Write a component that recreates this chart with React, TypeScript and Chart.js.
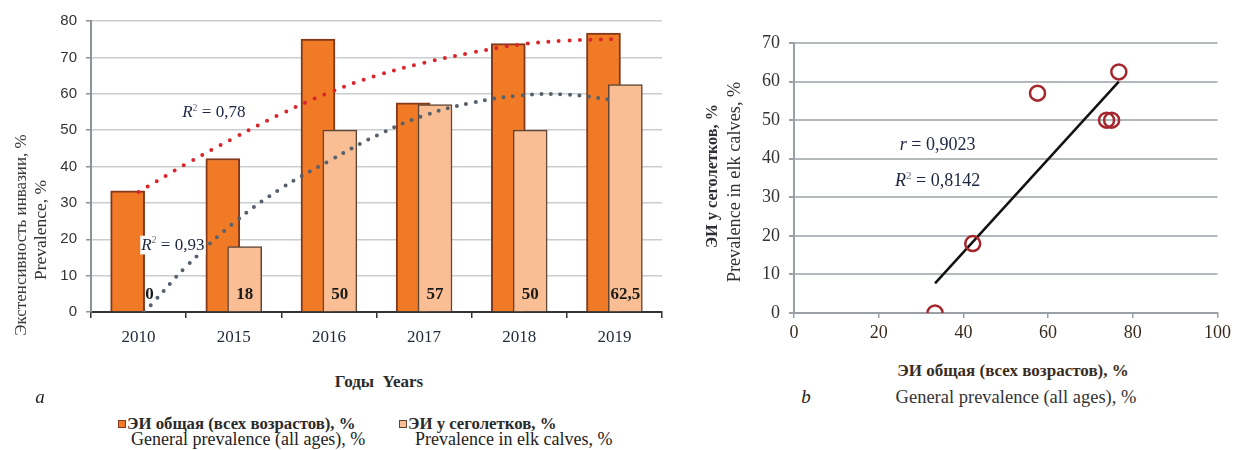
import React, { useEffect, useRef } from 'react';
import { Chart, registerables } from 'chart.js';

Chart.register(...registerables);

// ---- data ----
const categories = ['2010', '2015', '2016', '2017', '2018', '2019'];
const generalPrevalence = [33.3, 42.2, 75, 57.5, 73.8, 76.7];
const calfPrevalence = [0, 18, 50, 57, 50, 62.5];
const calfLabels = ['0', '18', '50', '57', '50', '62,5'];

// dotted polynomial trend lines (x in category-index units)
const generalTrendX = [0, 0.5, 1, 1.5, 2, 2.5, 3, 3.5, 4, 4.5, 5];
const generalTrendY = [33, 40.7, 47.8, 54.5, 60.3, 65, 68.5, 71.3, 73.5, 74.6, 75];
const calfTrendX = [0.06, 0.14, 0.5, 1, 1.5, 2, 2.5, 3, 3.5, 4, 4.5, 5];
const calfTrendY = [0, 2.2, 12.5, 24.5, 34, 41.5, 48.5, 54, 57.5, 59.5, 59.8, 58.2];
const generalR2 = '0,78';
const calfR2 = '0,93';

// scatter regression
const regressionX = [33.3, 76.7];
const regressionY = [7.7, 60];
const corrR = '0,9023';
const corrR2 = '0,8142';

// axes
const leftYMax = 80;
const leftYStep = 10;
const rightXMax = 100;
const rightXStep = 20;
const rightYMax = 70;
const rightYStep = 10;

const SERIF = '"Liberation Serif", "Times New Roman", serif';
const SANS = '"Liberation Sans", Arial, sans-serif';
const NAVY = '#1b2440';

// overlapping pair of bars: each series sits on its own hidden index axis, shifted a little
const BAR_SHIFT = 0.115; // fraction of a category
const BAR_THICKNESS = 34;

function drawItalicLead(
  ctx: CanvasRenderingContext2D,
  cx: number,
  cy: number,
  lead: string,
  sup: string,
  rest: string,
  size: number,
  bg: boolean
) {
  ctx.save();
  ctx.textBaseline = 'middle';
  ctx.textAlign = 'left';
  const fItal = `italic ${size}px ${SERIF}`;
  const fSup = `${Math.round(size * 0.6)}px ${SERIF}`;
  const fNorm = `${size}px ${SERIF}`;
  ctx.font = fItal;
  const w1 = ctx.measureText(lead).width;
  ctx.font = fSup;
  const w2 = sup ? ctx.measureText(sup).width : 0;
  ctx.font = fNorm;
  const w3 = ctx.measureText(rest).width;
  const total = w1 + w2 + w3;
  let x = cx - total / 2;
  if (bg) {
    ctx.fillStyle = '#ffffff';
    ctx.fillRect(x - 1, cy - size * 0.55, total + 2, size * 1.1);
  }
  ctx.fillStyle = NAVY;
  ctx.font = fItal;
  ctx.fillText(lead, x, cy);
  x += w1;
  if (sup) {
    ctx.font = fSup;
    ctx.fillStyle = '#6a7080';
    ctx.fillText(sup, x, cy - size * 0.3);
    ctx.fillStyle = NAVY;
    x += w2;
  }
  ctx.font = fNorm;
  ctx.fillText(rest, x, cy);
  ctx.restore();
}

const leftPlugin = {
  id: 'leftDecor',
  afterDatasetsDraw(chart: any) {
    const ctx = chart.ctx as CanvasRenderingContext2D;
    const y = chart.scales.y;
    const xt = chart.scales.xt;
    const meta = chart.getDatasetMeta(1);
    ctx.save();
    ctx.font = `bold 17px ${SERIF}`;
    ctx.fillStyle = '#1a1a1a';
    ctx.textAlign = 'center';
    ctx.textBaseline = 'middle';
    meta.data.forEach((bar: any, i: number) => {
      ctx.fillText(calfLabels[i], bar.x, y.getPixelForValue(0) - 17);
    });
    ctx.restore();
    drawItalicLead(ctx, xt.getPixelForValue(0.79), y.getPixelForValue(54.7), 'R', '2', ' = ' + generalR2, 17, false);
    drawItalicLead(ctx, xt.getPixelForValue(0.36), y.getPixelForValue(18.4), 'R', '2', ' = ' + calfR2, 17, true);
  },
};

const rightPlugin = {
  id: 'rightDecor',
  afterDatasetsDraw(chart: any) {
    const ctx = chart.ctx as CanvasRenderingContext2D;
    const x = chart.scales.x;
    const y = chart.scales.y;
    drawItalicLead(ctx, x.getPixelForValue(33.9), y.getPixelForValue(43.6), 'r', '', ' = ' + corrR, 18, false);
    drawItalicLead(ctx, x.getPixelForValue(33.9), y.getPixelForValue(34.2), 'R', '2', ' = ' + corrR2, 18, false);
  },
};

const hiddenIndexAxis = (shift: number) => ({
  type: 'linear',
  display: false,
  position: 'bottom',
  offset: false,
  grid: { offset: false },
  min: -0.5 - shift,
  max: categories.length - 0.5 - shift,
});

function LeftChart() {
  const ref = useRef<HTMLCanvasElement | null>(null);
  useEffect(() => {
    if (!ref.current) return;
    const chart = new Chart(ref.current, {
      type: 'bar',
      data: {
        labels: categories,
        datasets: [
          {
            type: 'bar',
            label: 'general',
            data: generalPrevalence.map((v, i) => ({ x: i, y: v })),
            xAxisID: 'xo',
            grouped: false,
            barThickness: BAR_THICKNESS,
            backgroundColor: '#f07a26',
            borderColor: '#83391a',
            borderWidth: 2,
            order: 2,
          } as any,
          {
            type: 'bar',
            label: 'calves',
            data: calfPrevalence.map((v, i) => ({ x: i, y: v })),
            xAxisID: 'xl',
            grouped: false,
            barThickness: BAR_THICKNESS,
            backgroundColor: '#f9be94',
            borderColor: '#5e4636',
            borderWidth: 1.5,
            order: 1,
          } as any,
          {
            type: 'line',
            label: 'general trend',
            data: generalTrendX.map((x, i) => ({ x, y: generalTrendY[i] })),
            xAxisID: 'xt',
            borderColor: '#d8262c',
            borderWidth: 4,
            borderDash: [0, 10.5],
            borderCapStyle: 'round',
            pointRadius: 0,
            tension: 0.4,
            fill: false,
            order: 0,
          } as any,
          {
            type: 'line',
            label: 'calf trend',
            data: calfTrendX.map((x, i) => ({ x, y: calfTrendY[i] })),
            xAxisID: 'xt',
            borderColor: '#56616b',
            borderWidth: 4,
            borderDash: [0, 9.5],
            borderCapStyle: 'round',
            pointRadius: 0,
            tension: 0.4,
            fill: false,
            order: 0,
          } as any,
        ],
      },
      options: {
        responsive: false,
        animation: false,
        events: [],
        layout: { padding: { left: 0, right: 18, top: 21, bottom: 0 } },
        plugins: { legend: { display: false }, tooltip: { enabled: false } },
        scales: {
          x: {
            type: 'category',
            position: 'bottom',
            offset: true,
            grid: {
              offset: true,
              drawOnChartArea: false,
              drawTicks: true,
              tickLength: 6,
              tickColor: '#333333',
              lineWidth: 1.5,
            },
            border: { color: '#333333', width: 2 },
            ticks: { font: { family: SERIF, size: 17 }, color: '#1e2838', padding: 9 },
            afterFit: (s: any) => {
              s.height = 38;
            },
          },
          xo: hiddenIndexAxis(-BAR_SHIFT),
          xl: hiddenIndexAxis(BAR_SHIFT),
          xt: hiddenIndexAxis(0),
          y: {
            min: 0,
            max: leftYMax,
            ticks: { stepSize: leftYStep, font: { family: SANS, size: 15 }, color: '#333333', padding: 9 },
            grid: { color: '#c9cdd0', lineWidth: 1.5, tickLength: 5, tickColor: '#8d9296' },
            border: { color: '#8d9296', width: 2 },
            afterFit: (s: any) => {
              s.width = 91;
            },
          },
        },
      } as any,
      plugins: [leftPlugin as any],
    });
    return () => chart.destroy();
  }, []);
  return (
    <canvas
      ref={ref}
      width={680}
      height={350}
      style={{ position: 'absolute', left: 0, top: 0, width: 680, height: 350 }}
    />
  );
}

function RightChart() {
  const ref = useRef<HTMLCanvasElement | null>(null);
  useEffect(() => {
    if (!ref.current) return;
    const chart = new Chart(ref.current, {
      type: 'scatter',
      data: {
        datasets: [
          {
            label: 'points',
            data: generalPrevalence.map((x, i) => ({ x, y: calfPrevalence[i] })),
            pointRadius: 7.5,
            pointBorderWidth: 2.5,
            pointBorderColor: '#a5262c',
            pointBackgroundColor: 'rgba(255,255,255,0)',
            showLine: false,
            order: 0,
          } as any,
          {
            type: 'line',
            label: 'regression',
            data: regressionX.map((x, i) => ({ x, y: regressionY[i] })),
            borderColor: '#111111',
            borderWidth: 2.5,
            pointRadius: 0,
            fill: false,
            order: 1,
          } as any,
        ],
      },
      options: {
        responsive: false,
        animation: false,
        events: [],
        layout: { padding: { left: 0, right: 16, top: 43, bottom: 0 } },
        plugins: { legend: { display: false }, tooltip: { enabled: false } },
        scales: {
          x: {
            type: 'linear',
            min: 0,
            max: rightXMax,
            ticks: { stepSize: rightXStep, font: { family: SERIF, size: 18 }, color: '#3a2a1c', padding: 4 },
            grid: { drawOnChartArea: false, tickLength: 5, tickColor: '#9aa0a5', lineWidth: 1.5 },
            border: { color: '#9aa0a5', width: 2 },
            afterFit: (s: any) => {
              s.height = 37;
            },
          },
          y: {
            type: 'linear',
            min: 0,
            max: rightYMax,
            ticks: { stepSize: rightYStep, font: { family: SERIF, size: 18 }, color: '#333333', padding: 9 },
            grid: { color: '#b3b8bc', lineWidth: 2, tickLength: 5, tickColor: '#9aa0a5' },
            border: { color: '#9aa0a5', width: 2 },
            afterFit: (s: any) => {
              s.width = 104;
            },
          },
        },
      } as any,
      plugins: [rightPlugin as any],
    });
    return () => chart.destroy();
  }, []);
  return (
    <canvas
      ref={ref}
      width={545}
      height={350}
      style={{ position: 'absolute', left: 690, top: 0, width: 545, height: 350 }}
    />
  );
}

const abs = (left: number, top: number, extra: React.CSSProperties = {}): React.CSSProperties => ({
  position: 'absolute',
  left,
  top,
  whiteSpace: 'nowrap',
  lineHeight: 1,
  fontFamily: SERIF,
  ...extra,
});

function Centered(props: { x: number; y: number; size: number; bold?: boolean; italic?: boolean; color?: string; rotate?: boolean; children: React.ReactNode }) {
  return (
    <div
      style={abs(props.x, props.y, {
        fontSize: props.size,
        fontWeight: props.bold ? 'bold' : 'normal',
        fontStyle: props.italic ? 'italic' : 'normal',
        color: props.color || '#222',
        transform: `translate(-50%, -50%)${props.rotate ? ' rotate(-90deg)' : ''}`,
      })}
    >
      {props.children}
    </div>
  );
}

function LeftText(props: { x: number; y: number; size: number; bold?: boolean; color?: string; children: React.ReactNode }) {
  return (
    <div
      style={abs(props.x, props.y, {
        fontSize: props.size,
        fontWeight: props.bold ? 'bold' : 'normal',
        color: props.color || '#222',
        transform: 'translateY(-50%)',
      })}
    >
      {props.children}
    </div>
  );
}

export default function App() {
  return (
    <div
      style={{
        position: 'fixed',
        left: 0,
        top: 0,
        width: 1235,
        height: 450,
        background: '#ffffff',
        overflow: 'hidden',
      }}
    >
      <LeftChart />
      <RightChart />

      {/* left chart titles */}
      <Centered x={20} y={235} size={17} rotate color="#3a3a3a">Экстенсивность инвазии, %</Centered>
      <Centered x={41} y={230} size={17.5} rotate color="#333">Prevalence, %</Centered>
      <Centered x={379} y={381} size={17} bold color="#2a2a2a">Годы&nbsp;&nbsp;Years</Centered>
      <Centered x={40} y={396} size={19} italic color="#222">a</Centered>

      {/* legend */}
      <div style={{ position: 'absolute', left: 118, top: 420, width: 6, height: 6, background: '#f07a26', border: '1.5px solid #83391a' }} />
      <LeftText x={127} y={424} size={16.8} bold color="#2a2a2a">ЭИ общая (всех возрастов), %</LeftText>
      <LeftText x={131} y={439} size={18} color="#222">General prevalence (all ages), %</LeftText>
      <div style={{ position: 'absolute', left: 399, top: 420, width: 6, height: 6, background: '#f9be94', border: '1.5px solid #5e4636' }} />
      <LeftText x={408} y={424} size={16.8} bold color="#2a2a2a">ЭИ у сеголетков, %</LeftText>
      <LeftText x={415} y={439} size={18} color="#222">Prevalence in elk calves, %</LeftText>

      {/* right chart titles */}
      <Centered x={712} y={176} size={16.3} bold rotate color="#2e2e36">ЭИ у сеголетков, %</Centered>
      <Centered x={734} y={182} size={18.3} rotate color="#333">Prevalence in elk calves, %</Centered>
      <Centered x={1013} y={370} size={17} bold color="#3b2c22">ЭИ общая (всех возрастов), %</Centered>
      <Centered x={1016} y={397} size={18.5} color="#333">General prevalence (all ages), %</Centered>
      <Centered x={806} y={396} size={19} italic color="#222">b</Centered>
    </div>
  );
}
